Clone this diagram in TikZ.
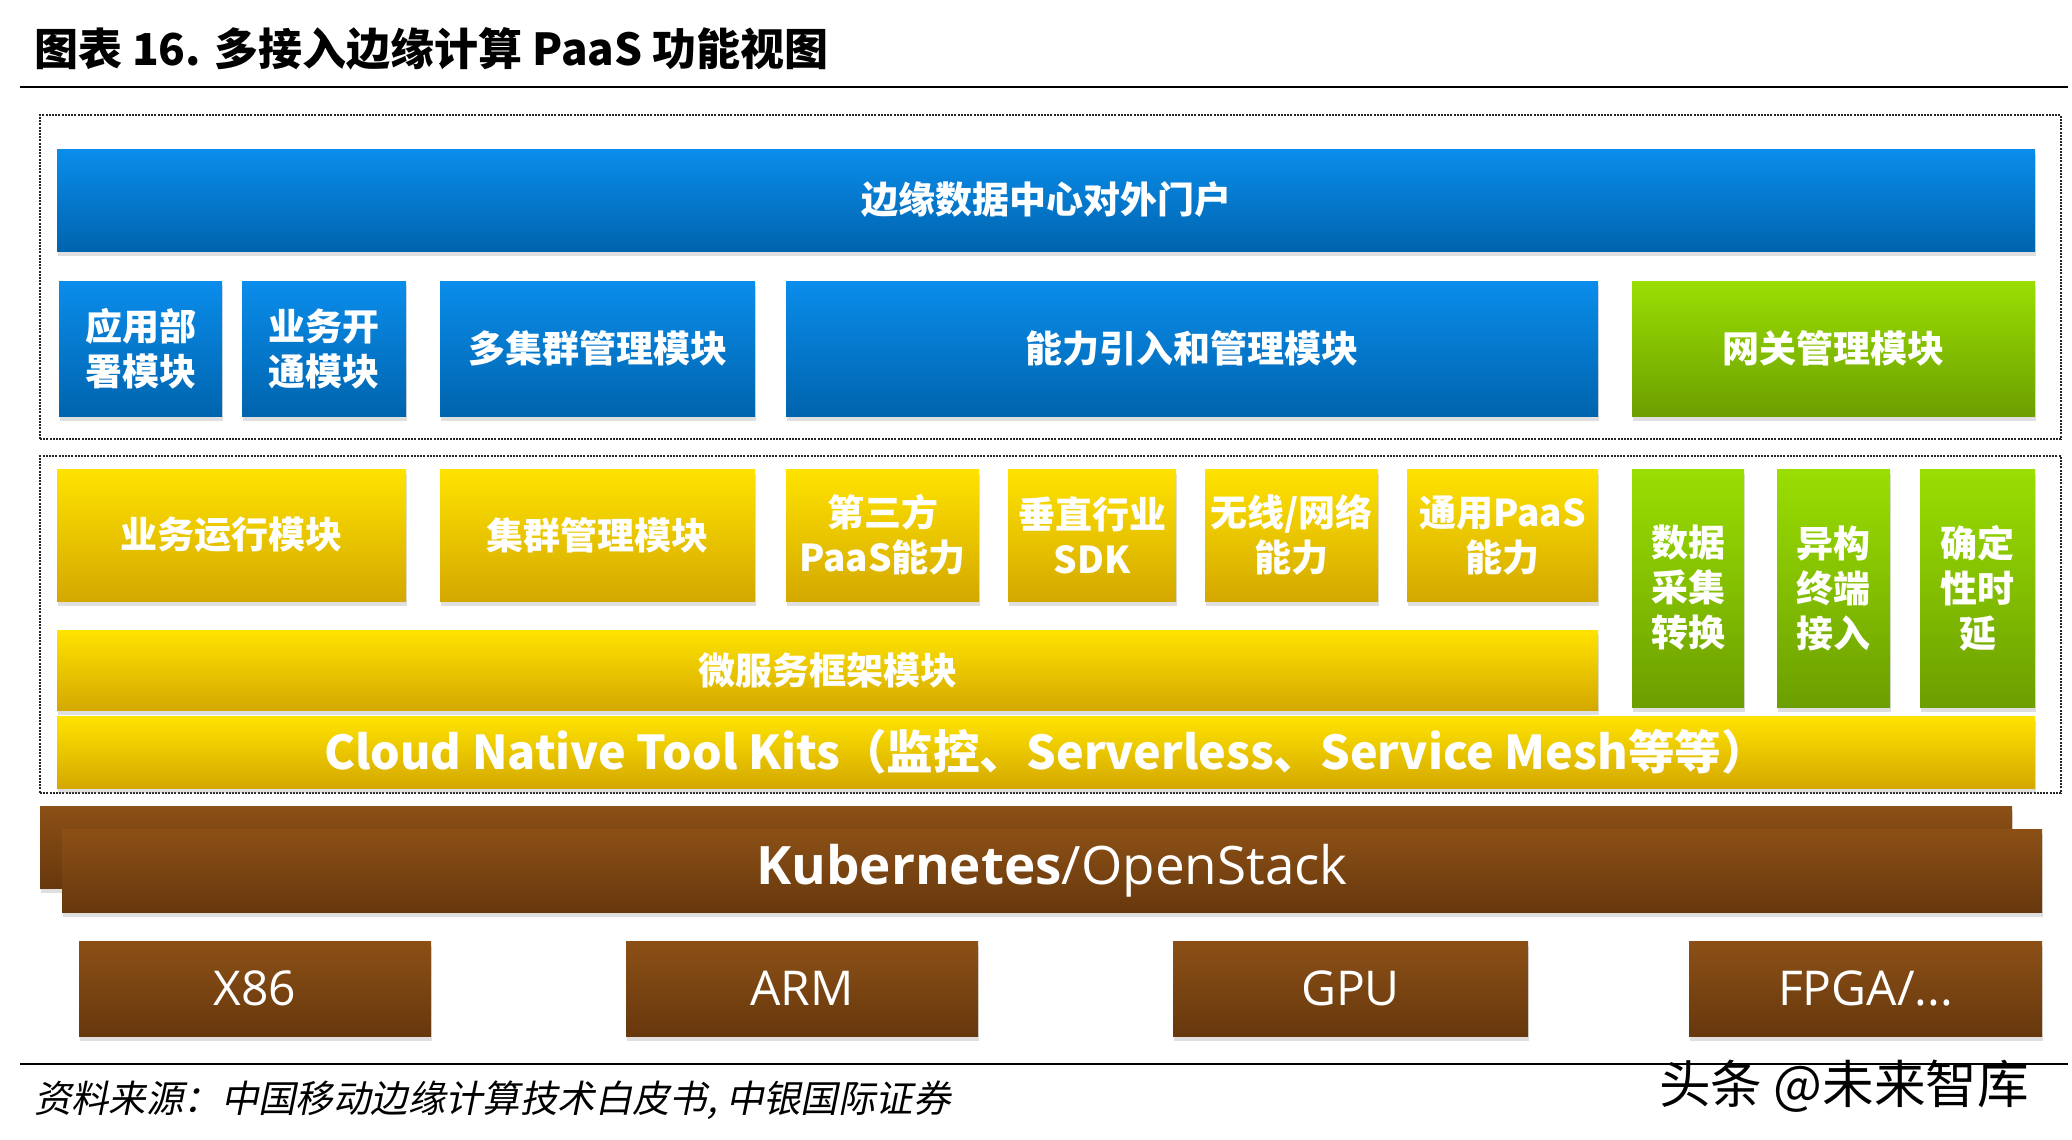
\documentclass[tikz,border=0pt]{standalone}
\usepackage{fontspec}
\setmainfont{Noto Sans CJK SC}
\newfontfamily\latinfont{Open Sans}
\newfontfamily\srcfont{Noto Sans CJK SC}[FakeSlant=0.2]
\usepackage{xcolor}
\usepackage{tikz}
\usetikzlibrary{fit, shadows}
\definecolor{blueT}{HTML}{0A8DEB}
\definecolor{blueB}{HTML}{0064AE}
\definecolor{greenT}{HTML}{9ADE02}
\definecolor{greenB}{HTML}{6C9F00}
\definecolor{yellowT}{HTML}{FFE300}
\definecolor{yellowB}{HTML}{D4A800}
\definecolor{brownT}{HTML}{8C5016}
\definecolor{brownB}{HTML}{67380D}
\tikzset{
  dotframe/.style={draw=black!85, line width=1.3pt, dash pattern=on 1pt off 0.6pt, inner sep=0pt},
  sz/.style 2 args={minimum width={(#1)*0.5pt}, minimum height={(#2)*0.5pt}},
  modbox/.style={inner sep=0pt, align=center, text=white,
    font=\bfseries\fontsize{18.5}{22.5}\selectfont,
    drop shadow={opacity=0.25, shadow xshift=0.5pt, shadow yshift=-2.5pt}},
  bluemod/.style={modbox, top color=blueT, bottom color=blueB},
  greenmod/.style={modbox, top color=greenT, bottom color=greenB},
  yellowmod/.style={modbox, top color=yellowT, bottom color=yellowB},
  brownmod/.style={modbox, top color=brownT, bottom color=brownB,
    font=\latinfont\fontsize{24}{28}\selectfont},
}

\begin{document}
\begin{tikzpicture}[x=0.5pt, y=-0.5pt]
\useasboundingbox (0,0) rectangle (2072,1140);

% title and rules
\node[anchor=west, font=\bfseries\fontsize{22}{26}\selectfont] (title) at (27,49) {图表 16. 多接入边缘计算 PaaS 功能视图};
\draw[line width=1.1pt] (20,87) -- (2068,87);
\draw[line width=1.1pt] (20,1064) -- (2068,1064);

% dotted frames
\node[dotframe, fit={(40,115) (2061,439)}] (upper) {};
\node[dotframe, fit={(40,456) (2061,793)}] (lower) {};

% upper layer
\node[bluemod, sz={1978}{102}] (portal) at (1046,200) {边缘数据中心对外门户};
\node[bluemod, sz={163}{135}] (deploy) at (140.5,348.5) {应用部\\署模块};
\node[bluemod, sz={164}{135}] (open) at (324,348.5) {业务开\\通模块};
\node[bluemod, sz={315}{135}] (multi) at (597.5,348.5) {多集群管理模块};
\node[bluemod, sz={812}{135}] (ability) at (1192,348.5) {能力引入和管理模块};
\node[greenmod, sz={403}{135}] (gateway) at (1833.5,348.5) {网关管理模块};

% lower layer
\node[yellowmod, sz={349}{132}] (run) at (231.5,535) {业务运行模块};
\node[yellowmod, sz={315}{132}] (cluster) at (597.5,535) {集群管理模块};
\node[yellowmod, sz={193}{132}] (third) at (882.5,535) {第三方\\PaaS能力};
\node[yellowmod, sz={168}{132}] (sdk) at (1092,535) {垂直行业\\SDK};
\node[yellowmod, sz={173}{132}] (wireless) at (1291.5,535) {无线/网络\\能力};
\node[yellowmod, sz={191}{132}] (common) at (1502.5,535) {通用PaaS\\能力};
\node[greenmod, sz={112}{238}] (collect) at (1688,588) {数据\\采集\\转换};
\node[greenmod, sz={113}{238}] (hetero) at (1833.5,588) {异构\\终端\\接入};
\node[greenmod, sz={115}{238}] (latency) at (1977.5,588) {确定\\性时\\延};
\node[yellowmod, sz={1541}{80}] (micro) at (827.5,670) {微服务框架模块};
\node[yellowmod, sz={1978}{72}, font=\bfseries\fontsize{23.3}{27}\selectfont] (toolkit) at (1046,752)
  {Cloud Native Tool Kits（监控、Serverless、Service Mesh等等）};

% platform
\node[brownmod, sz={1972}{82}] (k8sback) at (1026,847) {};
\node[brownmod, sz={1980}{83}, font=\latinfont\fontsize{26.5}{30}\selectfont] (k8s) at (1052,870.5)
  {\textbf{Kubernetes}/OpenStack};

% hardware
\node[brownmod, sz={352}{95}] (x86) at (255,988.5) {X86};
\node[brownmod, sz={352}{95}] (arm) at (802,988.5) {ARM};
\node[brownmod, sz={355}{95}] (gpu) at (1350.5,988.5) {GPU};
\node[brownmod, sz={353}{95}] (fpga) at (1865.5,988.5) {FPGA/...};

% source
\node[anchor=west, font=\srcfont\fontsize{18.7}{22}\selectfont] (source) at (27,1100) {资料来源：中国移动边缘计算技术白皮书, 中银国际证券};
\node[anchor=west, font=\fontsize{25.8}{28}\selectfont] (mark) at (1652,1086) {头条 @未来智库};
\end{tikzpicture}
\end{document}
